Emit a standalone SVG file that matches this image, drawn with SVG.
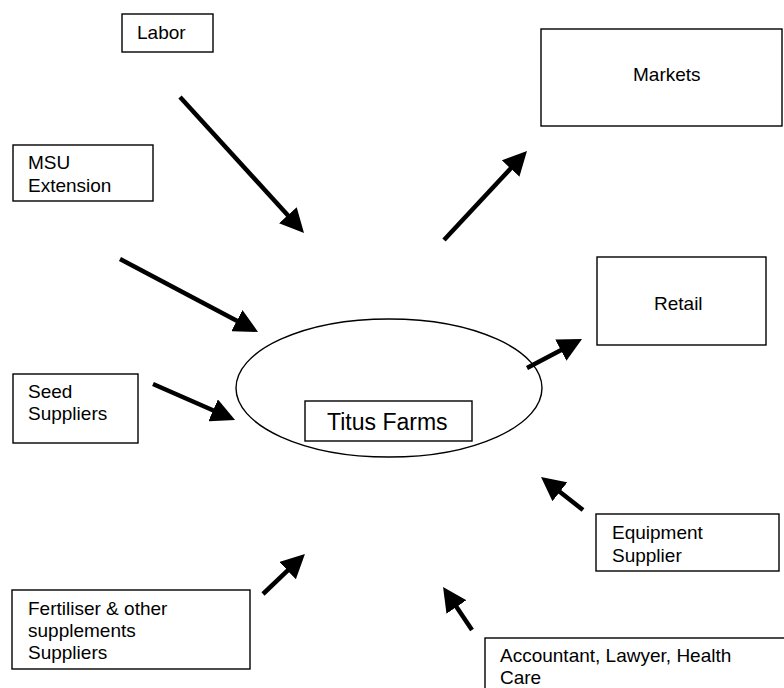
<svg xmlns="http://www.w3.org/2000/svg" width="784" height="688" viewBox="0 0 784 688">
<style>
.box{fill:#fff;stroke:#000;stroke-width:1.4}
.t{font-family:"Liberation Sans",Arial,sans-serif;font-size:19px;fill:#000}
.big{font-size:23px}
.arr{stroke:#000;stroke-width:4.5;fill:none;marker-end:url(#ah)}
</style>
<defs>
<marker id="ah" markerUnits="userSpaceOnUse" markerWidth="24" markerHeight="24" viewBox="0 0 24 24" refX="1" refY="12" orient="auto">
<path d="M0,0 L24,12 L0,24 z" fill="#000"/>
</marker>
</defs>
<rect width="784" height="688" fill="#fff"/>
<g id="connectors">
<line class="arr" x1="180" y1="97" x2="288.5" y2="216"/>
<line class="arr" x1="120" y1="259" x2="237.7" y2="321.2"/>
<line class="arr" x1="153" y1="384" x2="214" y2="410.8"/>
<line class="arr" x1="444" y1="240" x2="511.3" y2="167.8"/>
<line class="arr" x1="527" y1="368" x2="561.7" y2="349.7"/>
<line class="arr" x1="583" y1="510" x2="559.1" y2="491.2"/>
<line class="arr" x1="472" y1="630" x2="455.9" y2="606.1"/>
<line class="arr" x1="263" y1="594" x2="288.3" y2="569.9"/>
</g>
<g id="titus">
<ellipse cx="389" cy="388" rx="153" ry="69" fill="none" stroke="#000" stroke-width="1.4"/>
<rect class="box" x="305" y="401" width="167" height="40"/>
<text class="t big" x="327" y="430">Titus Farms</text>
</g>
<g id="labor">
<rect class="box" x="122" y="14" width="91" height="38"/>
<text class="t" x="137" y="39">Labor</text>
</g>
<g id="msu">
<rect class="box" x="13" y="145" width="140" height="56"/>
<text class="t" x="28" y="169">MSU</text>
<text class="t" x="28" y="192">Extension</text>
</g>
<g id="seed">
<rect class="box" x="13" y="374" width="125" height="69"/>
<text class="t" x="28" y="398">Seed</text>
<text class="t" x="28" y="420">Suppliers</text>
</g>
<g id="fertiliser">
<rect class="box" x="12" y="590" width="238" height="79"/>
<text class="t" x="28" y="615">Fertiliser &amp; other</text>
<text class="t" x="28" y="637">supplements</text>
<text class="t" x="28" y="659">Suppliers</text>
</g>
<g id="markets">
<rect class="box" x="541" y="29" width="241" height="97"/>
<text class="t" x="633" y="81">Markets</text>
</g>
<g id="retail">
<rect class="box" x="597" y="257" width="169" height="88"/>
<text class="t" x="654" y="310">Retail</text>
</g>
<g id="equipment">
<rect class="box" x="596" y="514" width="183" height="57"/>
<text class="t" x="612" y="539">Equipment</text>
<text class="t" x="612" y="562">Supplier</text>
</g>
<g id="accountant">
<rect class="box" x="485" y="638" width="305" height="60"/>
<text class="t" x="500" y="662">Accountant, Lawyer, Health</text>
<text class="t" x="500" y="684">Care</text>
</g>
</svg>
